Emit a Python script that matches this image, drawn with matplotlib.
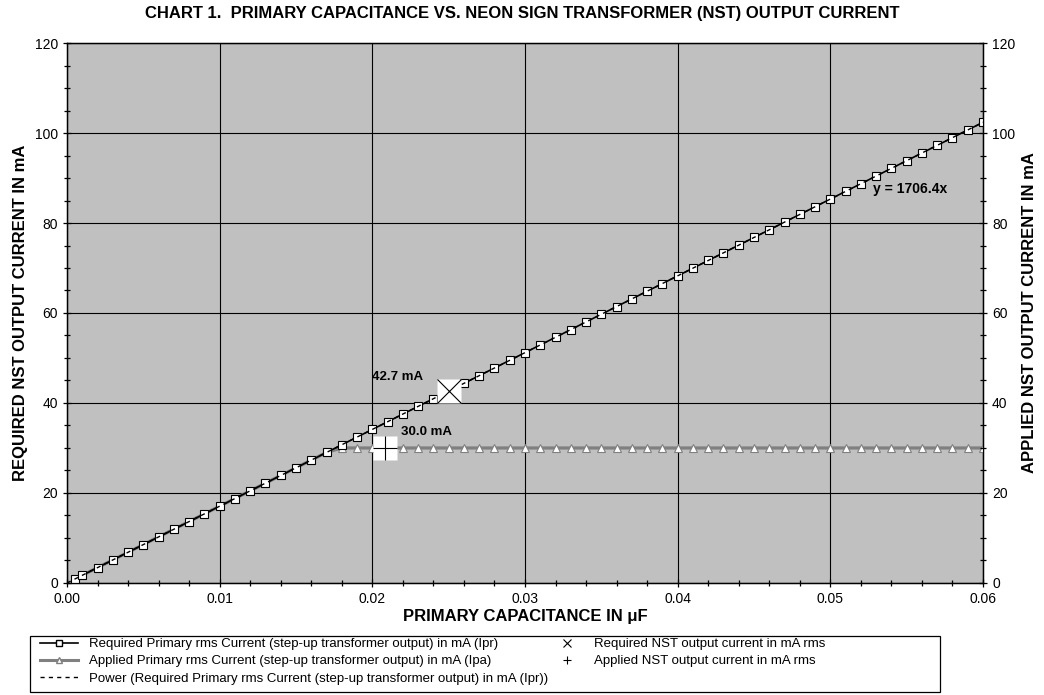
import matplotlib.pyplot as plt
from matplotlib.lines import Line2D
from matplotlib.patches import Rectangle
from matplotlib.ticker import MultipleLocator

plt.rcParams['font.family'] = ['Liberation Sans', 'DejaVu Sans']

# primary capacitance (uF)
cap_uF = [0.0005, 0.001, 0.002, 0.003, 0.004, 0.005, 0.006, 0.007, 0.008, 0.009,
          0.010, 0.011, 0.012, 0.013, 0.014, 0.015, 0.016, 0.017, 0.018, 0.019,
          0.020, 0.021, 0.022, 0.023, 0.024, 0.025, 0.026, 0.027, 0.028, 0.029,
          0.030, 0.031, 0.032, 0.033, 0.034, 0.035, 0.036, 0.037, 0.038, 0.039,
          0.040, 0.041, 0.042, 0.043, 0.044, 0.045, 0.046, 0.047, 0.048, 0.049,
          0.050, 0.051, 0.052, 0.053, 0.054, 0.055, 0.056, 0.057, 0.058, 0.059,
          0.060]

# required primary rms current, mA (Ipr)
i_required = [0.85, 1.71, 3.41, 5.12, 6.83, 8.53, 10.24, 11.94, 13.65, 15.36,
              17.06, 18.77, 20.48, 22.18, 23.89, 25.60, 27.30, 29.01, 30.72, 32.42,
              34.13, 35.83, 37.54, 39.25, 40.95, 42.66, 44.37, 46.07, 47.78, 49.49,
              51.19, 52.90, 54.60, 56.31, 58.02, 59.72, 61.43, 63.14, 64.84, 66.55,
              68.26, 69.96, 71.67, 73.38, 75.08, 76.79, 78.49, 80.20, 81.91, 83.61,
              85.32, 87.03, 88.73, 90.44, 92.15, 93.85, 95.56, 97.26, 98.97, 100.68,
              102.38]

# applied primary rms current, mA (Ipa) - limited by the 30 mA NST
i_applied = [0.85, 1.71, 3.41, 5.12, 6.83, 8.53, 10.24, 11.94, 13.65, 15.36,
             17.06, 18.77, 20.48, 22.18, 23.89, 25.60, 27.30, 29.01, 30.0, 30.0,
             30.0, 30.0, 30.0, 30.0, 30.0, 30.0, 30.0, 30.0, 30.0, 30.0,
             30.0, 30.0, 30.0, 30.0, 30.0, 30.0, 30.0, 30.0, 30.0, 30.0,
             30.0, 30.0, 30.0, 30.0, 30.0, 30.0, 30.0, 30.0, 30.0, 30.0,
             30.0, 30.0, 30.0, 30.0, 30.0, 30.0, 30.0, 30.0, 30.0, 30.0,
             30.0]

trend_coef = 1706.4          # power trendline y = 1706.4x
req_nst = (0.025, 42.7)      # required NST output current point
app_nst = (0.0208, 30.0)     # applied NST output current point

GRAY = '#808080'

fig = plt.figure(figsize=(10.44, 6.95), dpi=100)
ax = fig.add_axes([0.0642, 0.1612, 0.8774, 0.7769])
ax.set_facecolor('#C0C0C0')

ax.plot(cap_uF, i_applied, color=GRAY, lw=2.3, marker='^', ms=6,
        mfc='white', mec=GRAY, mew=0.8, zorder=3)
ax.plot(cap_uF, i_required, color='black', lw=1.2, marker='s', ms=5.5,
        mfc='white', mec='black', mew=0.8, zorder=4)
trend_x = [0.0, cap_uF[-1]]
ax.plot(trend_x, [trend_coef * v for v in trend_x], color='black', lw=1,
        ls=(0, (3, 3)), zorder=5)

# NST points drawn on white squares
for (px, py), mk in [(req_nst, 'x'), (app_nst, '+')]:
    ax.plot(px, py, marker='s', ms=17, mfc='white', mec='none', zorder=6)
    ax.plot(px, py, marker=mk, ms=17, mec='black', mew=0.8, zorder=7)

ax.text(0.01996, 45.8, '42.7 mA', fontsize=9.5, fontweight='bold', va='center', zorder=8)
ax.text(0.0219, 33.6, '30.0 mA', fontsize=9.5, fontweight='bold', va='center', zorder=8)
ax.text(0.0528, 87.6, 'y = 1706.4x', fontsize=10, fontweight='bold', va='center', zorder=8)

ax.set_xlim(0, 0.06)
ax.set_ylim(0, 120)
ax.xaxis.set_major_locator(MultipleLocator(0.01))
ax.xaxis.set_minor_locator(MultipleLocator(0.002))
ax.yaxis.set_major_locator(MultipleLocator(20))
ax.yaxis.set_minor_locator(MultipleLocator(5))
ax.xaxis.set_major_formatter(lambda v, p: f'{v:.2f}')
ax.grid(True, which='major', color='black', lw=0.8)
ax.set_axisbelow(True)
ax.tick_params(which='both', direction='inout', labelsize=10, width=0.9)
ax.tick_params(which='major', length=6)
ax.tick_params(which='minor', length=5)
for s in ax.spines.values():
    s.set_linewidth(1.0)

ax2 = ax.twinx()
ax2.set_ylim(0, 120)
ax2.yaxis.set_major_locator(MultipleLocator(20))
ax2.yaxis.set_minor_locator(MultipleLocator(5))
ax2.tick_params(which='both', direction='inout', labelsize=10, width=0.9)
ax2.tick_params(which='major', length=6)
ax2.tick_params(which='minor', length=5)

ax.set_xlabel('PRIMARY CAPACITANCE IN \u03bcF', fontsize=12, fontweight='bold', labelpad=2)
ax.set_ylabel('REQUIRED NST OUTPUT CURRENT IN mA', fontsize=12, fontweight='bold', labelpad=5)
ax2.set_ylabel('APPLIED NST OUTPUT CURRENT IN mA', fontsize=12, fontweight='bold', labelpad=5)
fig.text(0.5, 0.98, 'CHART 1.  PRIMARY CAPACITANCE VS. NEON SIGN TRANSFORMER (NST) OUTPUT CURRENT',
         ha='center', va='center', fontsize=12, fontweight='bold')

# legend: framed box with two columns
W, H = 1044, 695
fig.add_artist(Rectangle((30 / W, 1 - 692 / H), 910 / W, 56 / H, transform=fig.transFigure,
                         fill=False, edgecolor='black', lw=0.9))

left_handles = [
    Line2D([], [], color='black', lw=1.2, marker='s', ms=4.5, mfc='white', mec='black'),
    Line2D([], [], color=GRAY, lw=2.2, marker='^', ms=5, mfc='white', mec=GRAY),
    Line2D([], [], color='black', lw=1, ls=(0, (3, 3))),
]
left_labels = [
    'Required Primary rms Current (step-up transformer output) in mA (Ipr)',
    'Applied Primary rms Current (step-up transformer output) in mA (Ipa)',
    'Power (Required Primary rms Current (step-up transformer output) in mA (Ipr))',
]
right_handles = [
    Line2D([], [], color='black', lw=0, marker='x', ms=6, mew=0.8),
    Line2D([], [], color='black', lw=0, marker='+', ms=6, mew=0.8),
]
right_labels = [
    'Required NST output current in mA rms',
    'Applied NST output current in mA rms',
]
leg_kw = dict(fontsize=9.5, frameon=False, borderpad=0, borderaxespad=0,
              labelspacing=0.38, loc='upper left')
leg1 = fig.legend(left_handles, left_labels, bbox_to_anchor=(40 / W, 1 - 638 / H),
                  handlelength=2.9, handletextpad=0.8, **leg_kw)
leg2 = fig.legend(right_handles, right_labels, bbox_to_anchor=(554 / W, 1 - 638 / H),
                  handlelength=2.0, handletextpad=1.0, **leg_kw)

fig.savefig('out.png', dpi=100)
